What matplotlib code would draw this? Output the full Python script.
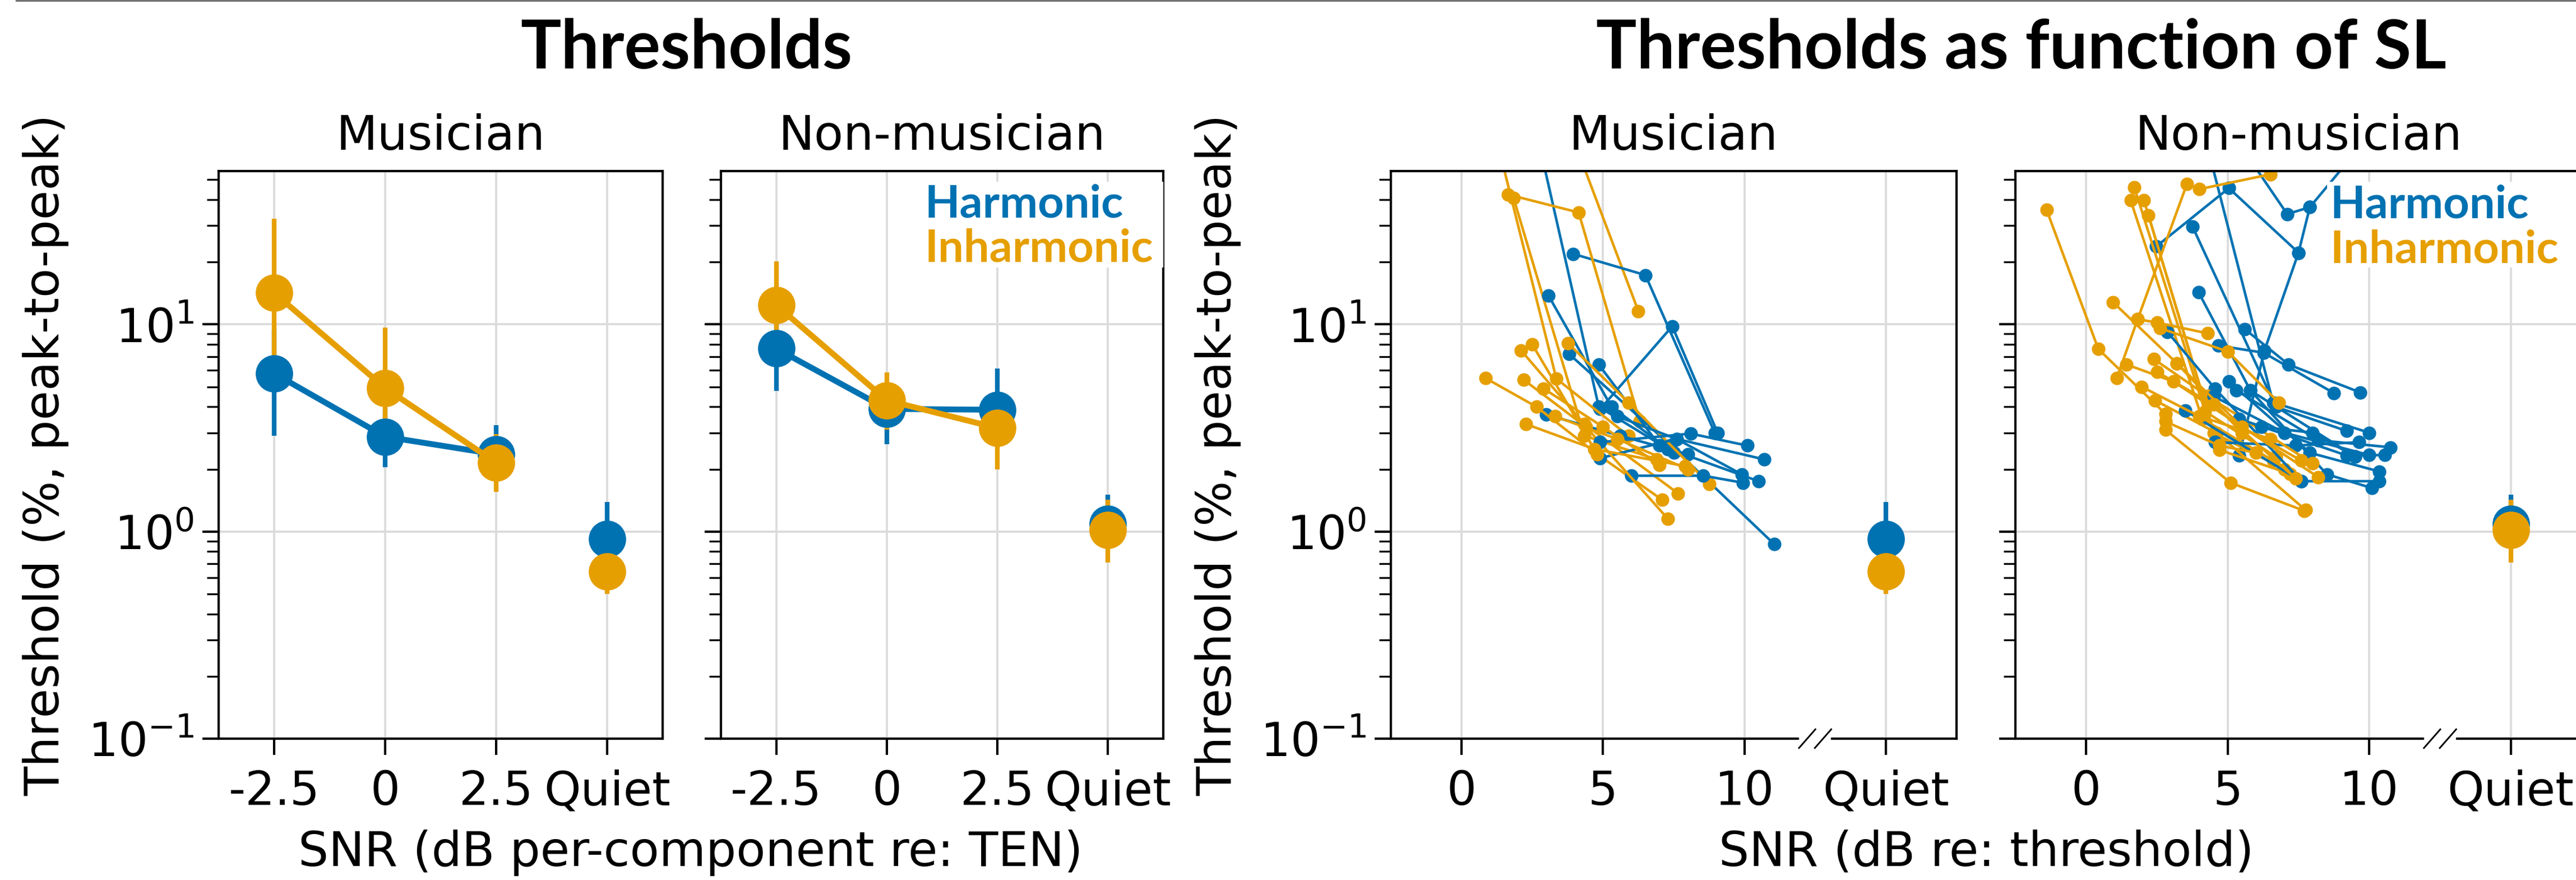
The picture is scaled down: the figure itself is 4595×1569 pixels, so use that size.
import matplotlib
matplotlib.use('Agg')
import matplotlib.pyplot as plt
from matplotlib.lines import Line2D
from matplotlib.patches import Rectangle

BLUE = '#0072B2'
ORANGE = '#E69F00'

# ---- group means (left panels), SNR re TEN ----
snr_ten = [-2.5, 0, 2.5]
quiet_x_ten = 5
xtick_ten = [-2.5, 0, 2.5, 5]
xtick_ten_labels = ['-2.5', '0', '2.5', 'Quiet']

mus_harm_mean = [5.8, 2.87, 2.36]
mus_harm_lo = [2.9, 2.04, 1.75]
mus_harm_hi = [9.5, 3.9, 3.27]
mus_inh_mean = [14.2, 4.93, 2.15]
mus_inh_lo = [6.2, 2.54, 1.55]
mus_inh_hi = [32.4, 9.66, 2.96]

non_harm_mean = [7.65, 3.91, 3.87]
non_harm_lo = [4.77, 2.64, 2.9]
non_harm_hi = [11.5, 5.0, 6.13]
non_inh_mean = [12.4, 4.3, 3.16]
non_inh_lo = [7.5, 3.1, 2.0]
non_inh_hi = [20.1, 5.85, 4.5]

# quiet thresholds: mean, low, high
mus_harm_quiet = [0.92, 0.75, 1.39]
mus_inh_quiet = [0.64, 0.50, 0.81]
non_harm_quiet = [1.09, 0.90, 1.51]
non_inh_quiet = [1.02, 0.71, 1.42]

# ---- individual listeners (right panels), SNR re threshold ----
quiet_x_sl = 15
xtick_sl = [0, 5, 10, 15]
xtick_sl_labels = ['0', '5', '10', 'Quiet']

mus_harm_sl = [[2.4, 4.85, 7.3], [3.95, 6.5, 8.95], [4.9, 7.45, 9.05], [3.8, 7.4, 11.05],
               [3.07, 5.3, 7.5], [4.85, 7.0, 10.5], [3.0, 5.6, 8.0], [4.9, 7.6, 10.7],
               [6.0, 8.55, 9.95], [4.9, 8.1, 10.1], [5.5, 7.6, 9.9]]
mus_harm_thr = [[120, 4.0, 2.5], [21.9, 17.3, 3.0], [3.9, 9.8, 3.0], [7.2, 2.6, 0.87],
                [13.8, 4.0, 2.4], [6.4, 2.6, 1.75], [3.67, 2.9, 2.36], [2.26, 2.8, 2.23],
                [1.86, 1.86, 1.72], [2.7, 2.97, 2.6], [3.6, 2.8, 1.89]]

mus_inh_sl = [[1.3, 3.75, 6.25], [1.64, 4.14, 6.3], [0.9, 3.35, 5.9], [1.84, 4.34, 6.9],
              [2.5, 4.8, 7.1], [2.1, 4.34, 7.65], [3.77, 5.9, 8.75], [0.85, 2.65, 4.8],
              [2.2, 4.4, 7.3], [2.28, 4.7, 7.9], [2.9, 5.0, 7.0], [3.3, 5.5, 8.0]]
mus_inh_thr = [[150, 93, 11.6], [42.4, 34.7, 3.4], [120, 5.47, 2.9], [40.7, 2.9, 2.23],
               [8.0, 2.36, 1.42], [7.5, 3.3, 1.53], [8.1, 4.2, 1.7], [5.5, 4.0, 2.36],
               [5.4, 3.2, 1.15], [3.3, 2.5, 2.07], [4.9, 3.2, 2.1], [3.6, 2.8, 2.0]]

non_harm_sl = [[2.48, 5.04, 7.5], [5.0, 7.1, 7.9, 9.6], [7.9, 7.5, 6.3, 5.4], [3.76, 6.7, 9.2],
               [4.2, 6.6, 10.0], [3.97, 5.8, 9.5], [2.87, 4.55, 7.6], [4.67, 6.27, 8.75],
               [5.6, 7.15, 9.67], [5.04, 7.9, 10.35], [5.3, 8.2, 10.75], [5.8, 8.5, 10.1],
               [3.5, 7.6, 10.35], [4.55, 7.4, 9.64], [5.4, 9.2, 10.55], [4.5, 7.0, 10.0],
               [6.2, 8.0, 9.5]]
non_harm_thr = [[23.8, 45.5, 22.2], [90, 34.1, 36.8, 70], [36.8, 22.2, 7.5, 2.33], [29.6, 4.0, 3.06],
                [80, 4.2, 3.0], [14.3, 4.8, 2.3], [9.2, 4.9, 1.75], [7.9, 7.3, 4.66],
                [9.5, 6.4, 4.7], [5.3, 2.4, 1.95], [4.8, 2.76, 2.55], [4.8, 1.89, 1.62],
                [3.84, 1.75, 1.75], [2.7, 2.6, 2.7], [3.5, 2.33, 2.34], [4.5, 3.0, 2.34],
                [3.2, 3.0, 2.3]]

non_inh_sl = [[-1.4, 0.43, 2.8], [1.08, 1.82, 3.56], [1.7, 4.2, 6.7], [1.57, 4.1, 6.6],
              [2.04, 4.5, 7.0], [2.2, 4.7, 7.2], [4.0, 6.5, 9.0], [1.82, 2.5, 4.3],
              [0.95, 3.2, 5.5], [2.6, 5.0, 6.8], [2.8, 5.1, 7.7], [2.43, 4.6, 7.75],
              [1.96, 4.0, 6.5], [2.39, 4.3, 8.0], [1.43, 3.08, 8.2], [2.5, 4.5, 7.4],
              [3.2, 5.5, 7.6], [2.8, 4.7, 6.0]]
non_inh_thr = [[35.8, 7.6, 3.7], [5.5, 10.6, 47.7], [46, 3.8, 2.3], [39.8, 3.5, 2.2],
               [39.8, 3.0, 2.0], [33.6, 2.48, 1.9], [45, 53, 90], [10.6, 10.2, 9.05],
               [12.8, 6.5, 3.0], [9.6, 7.4, 4.2], [3.1, 1.72, 1.26], [4.3, 3.0, 1.27],
               [5.0, 3.6, 2.8], [6.8, 4.5, 2.13], [6.4, 5.3, 1.83], [5.9, 4.1, 1.8],
               [6.5, 3.2, 2.2], [3.4, 2.6, 2.4]]

YLIM = (0.1, 55)

plt.rcParams['font.family'] = 'DejaVu Sans'
W, H = 4595, 1569
fig = plt.figure(figsize=(W / 300, H / 300), dpi=300)


def make_ax(x0, x1):
    return fig.add_axes([x0 / W, (H - 1317) / H, (x1 - x0) / W, (1317 - 305) / H])


def style_ax(ax, title, show_ylab):
    ax.set_yscale('log')
    ax.set_ylim(*YLIM)
    ax.set_axisbelow(True)
    ax.grid(True, which='major', color='0.86', lw=0.9)
    ax.yaxis.set_minor_formatter(plt.NullFormatter())
    ax.tick_params(axis='both', which='major', length=7, width=1.0, labelsize=20)
    ax.tick_params(axis='x', which='major', pad=6)
    ax.tick_params(axis='y', which='minor', length=5, width=0.8)
    for sp in ax.spines.values():
        sp.set_linewidth(1.0)
    ax.set_title(title, fontsize=20.5, pad=9)
    if show_ylab:
        ax.set_ylabel('Threshold (%, peak-to-peak)', fontsize=20.5, labelpad=8)
    else:
        ax.tick_params(axis='y', which='both', labelleft=False)


def plot_means(ax, harm, inh, quiet_h, quiet_i, qx):
    for (m, lo, hi), c in zip([harm, inh], [BLUE, ORANGE]):
        err = [[a - b for a, b in zip(m, lo)], [b - a for a, b in zip(m, hi)]]
        ax.errorbar(snr_ten, m, yerr=err, fmt='-o', color=c, lw=2.5, ms=15,
                    elinewidth=2, capsize=0)


def plot_quiet(ax, quiet_h, quiet_i, qx):
    for q, c in zip([quiet_h, quiet_i], [BLUE, ORANGE]):
        ax.errorbar([qx], [q[0]], yerr=[[q[0] - q[1]], [q[2] - q[0]]], fmt='o', color=c,
                    ms=15, elinewidth=2, capsize=0)


def plot_individuals(ax, hx, hy, ix, iy):
    n = max(len(hx), len(ix))
    for k in range(n):
        if k < len(hx):
            ax.plot(hx[k], hy[k], '-o', color=BLUE, lw=1.1, ms=4.8)
        if k < len(ix):
            ax.plot(ix[k], iy[k], '-o', color=ORANGE, lw=1.1, ms=4.8)


def add_legend(ax, box_x0, tx, ty1, ty2):
    ax.add_patch(Rectangle((box_x0, 0.83), 1 - box_x0, 0.151, transform=ax.transAxes,
                           facecolor='white', edgecolor='none', zorder=5))
    font = dict(family='Lato', weight='bold', size=19.5)
    ax.text(tx, ty1, 'Harmonic', color=BLUE, transform=ax.transAxes, va='baseline',
            fontdict=font, zorder=6)
    ax.text(tx, ty2, 'Inharmonic', color=ORANGE, transform=ax.transAxes, va='baseline',
            fontdict=font, zorder=6)


def add_break(ax, xb):
    trans = ax.get_xaxis_transform()
    ax.add_patch(Rectangle((xb - 0.56, -0.012), 1.12, 0.024, transform=trans,
                           facecolor='white', edgecolor='none', clip_on=False, zorder=10))
    for dx in (-0.28, 0.28):
        ax.plot([xb + dx - 0.29, xb + dx + 0.29], [-0.0165, 0.0165], transform=trans,
                color='black', lw=0.7, clip_on=False, zorder=11)


# ---- left pair: thresholds vs SNR re TEN ----
ax1 = make_ax(390, 1182)
ax2 = make_ax(1286, 2075)
for ax, title, show in [(ax1, 'Musician', True), (ax2, 'Non-musician', False)]:
    ax.set_xlim(-3.75, 6.25)
    ax.set_xticks(xtick_ten)
    ax.set_xticklabels(xtick_ten_labels)
    style_ax(ax, title, show)

plot_means(ax1, (mus_harm_mean, mus_harm_lo, mus_harm_hi),
           (mus_inh_mean, mus_inh_lo, mus_inh_hi), None, None, None)
plot_quiet(ax1, mus_harm_quiet, mus_inh_quiet, quiet_x_ten)
plot_means(ax2, (non_harm_mean, non_harm_lo, non_harm_hi),
           (non_inh_mean, non_inh_lo, non_inh_hi), None, None, None)
plot_quiet(ax2, non_harm_quiet, non_inh_quiet, quiet_x_ten)
add_legend(ax2, 0.449, 0.461, 0.918, 0.840)

# ---- right pair: thresholds vs SL ----
ax3 = make_ax(2481, 3490)
ax4 = make_ax(3595, 4605)
for ax, title, show in [(ax3, 'Musician', True), (ax4, 'Non-musician', False)]:
    ax.set_xlim(-2.5, 17.5)
    ax.set_xticks(xtick_sl)
    ax.set_xticklabels(xtick_sl_labels)
    style_ax(ax, title, show)
    add_break(ax, 12.5)

plot_individuals(ax3, mus_harm_sl, mus_harm_thr, mus_inh_sl, mus_inh_thr)
plot_quiet(ax3, mus_harm_quiet, mus_inh_quiet, quiet_x_sl)
plot_individuals(ax4, non_harm_sl, non_harm_thr, non_inh_sl, non_inh_thr)
plot_quiet(ax4, non_harm_quiet, non_inh_quiet, quiet_x_sl)
add_legend(ax4, 0.55, 0.5564, 0.917, 0.838)

# ---- figure-level text ----
fig.text(1224 / W, 1 - 122 / H, 'Thresholds', ha='center', va='baseline',
         family='Lato', weight='bold', size=29)
fig.text(3605 / W, 1 - 122 / H, 'Thresholds as function of SL', ha='center', va='baseline',
         family='Lato', weight='bold', size=29)
fig.text(1232 / W, 1 - 1520 / H, 'SNR (dB per-component re: TEN)', ha='center',
         va='center', size=20.5)
fig.text(3543 / W, 1 - 1520 / H, 'SNR (dB re: threshold)', ha='center', va='center',
         size=20.5)
fig.add_artist(Line2D([29 / W, 1], [1 - 1.5 / H, 1 - 1.5 / H], transform=fig.transFigure,
                      color='0.45', lw=0.8))

fig.savefig('out.png', dpi=300)
